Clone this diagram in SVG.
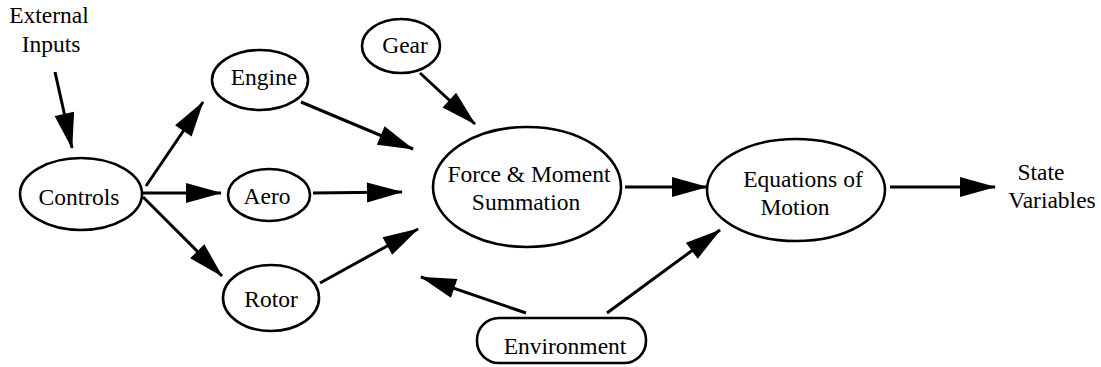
<svg xmlns="http://www.w3.org/2000/svg" width="1101" height="367" viewBox="0 0 1101 367">
<style>
.n{fill:#fff;stroke:#000;stroke-width:2.6}
.c line{stroke:#000;stroke-width:3;marker-end:url(#ah)}
</style>
<defs>
<marker id="ah" markerUnits="userSpaceOnUse" markerWidth="36" markerHeight="22" refX="35" refY="10" orient="auto" overflow="visible">
<path d="M0,0 L36,10 L0,20 z" fill="#000"/>
</marker>
</defs>
<rect width="1101" height="367" fill="#fff"/>
<g id="connectors" class="c">
<line x1="55" y1="72" x2="72" y2="148"/>
<line x1="146" y1="186" x2="203" y2="102"/>
<line x1="143" y1="193" x2="221" y2="193"/>
<line x1="143" y1="197" x2="222" y2="276"/>
<line x1="301" y1="102" x2="413" y2="149"/>
<line x1="313" y1="193" x2="402" y2="192"/>
<line x1="320" y1="283" x2="418" y2="229"/>
<line x1="420" y1="73" x2="475" y2="124"/>
<line x1="526" y1="313" x2="421" y2="277"/>
<line x1="607" y1="313" x2="720" y2="230"/>
<line x1="625" y1="187" x2="707" y2="187"/>
<line x1="890" y1="187" x2="995" y2="187"/>
</g>
<g id="external-inputs">
<text font-family="Liberation Serif" font-size="23.5" text-anchor="middle" x="49" y="23">External</text>
<text font-family="Liberation Serif" font-size="23.5" text-anchor="middle" x="51" y="52">Inputs</text>
</g>
<g id="controls">
<ellipse class="n" cx="81" cy="194" rx="61" ry="36"/>
<text font-family="Liberation Serif" font-size="23.5" text-anchor="middle" x="79" y="205">Controls</text>
</g>
<g id="engine">
<ellipse class="n" cx="260" cy="80" rx="48" ry="30"/>
<text font-family="Liberation Serif" font-size="23.5" text-anchor="middle" x="264" y="85">Engine</text>
</g>
<g id="aero">
<ellipse class="n" cx="269" cy="195" rx="41" ry="26"/>
<text font-family="Liberation Serif" font-size="23.5" text-anchor="middle" x="267" y="204">Aero</text>
</g>
<g id="rotor">
<ellipse class="n" cx="271" cy="298" rx="48" ry="33"/>
<text font-family="Liberation Serif" font-size="23.5" text-anchor="middle" x="271" y="307">Rotor</text>
</g>
<g id="gear">
<ellipse class="n" cx="401" cy="46" rx="39" ry="27"/>
<text font-family="Liberation Serif" font-size="23.5" text-anchor="middle" x="405" y="53">Gear</text>
</g>
<g id="force-moment">
<ellipse class="n" cx="527" cy="187" rx="94" ry="60"/>
<text font-family="Liberation Serif" font-size="23.5" text-anchor="middle" x="529" y="182">Force &amp; Moment</text>
<text font-family="Liberation Serif" font-size="23.5" text-anchor="middle" x="526" y="210">Summation</text>
</g>
<g id="equations">
<ellipse class="n" cx="796" cy="190" rx="89" ry="51"/>
<text font-family="Liberation Serif" font-size="23.5" text-anchor="middle" x="803" y="187">Equations of</text>
<text font-family="Liberation Serif" font-size="23.5" text-anchor="middle" x="795" y="215">Motion</text>
</g>
<g id="environment">
<rect class="n" x="477" y="318" width="169" height="45" rx="22" ry="22"/>
<text font-family="Liberation Serif" font-size="23.5" text-anchor="middle" x="565" y="354">Environment</text>
</g>
<g id="state-variables">
<text font-family="Liberation Serif" font-size="23.5" text-anchor="middle" x="1041" y="180">State</text>
<text font-family="Liberation Serif" font-size="23.5" text-anchor="middle" x="1052" y="208">Variables</text>
</g>
</svg>
